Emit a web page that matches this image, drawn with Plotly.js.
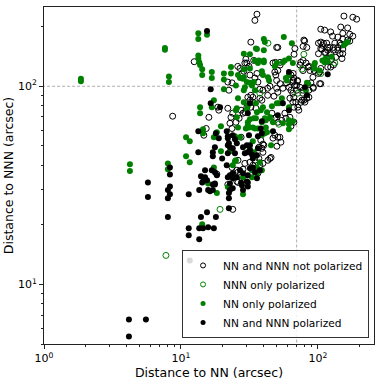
<!DOCTYPE html>
<html>
<head>
<meta charset="utf-8">
<script src="https://cdn.plot.ly/plotly-3.0.1.min.js"></script>
<style>
  html, body { margin: 0; padding: 0; background: #fff; }
  #chart { width: 382px; height: 382px; }
</style>
</head>
<body>
<div id="chart"></div>
<script>
// [NN distance, NNN distance] in arcsec

// open black circles
var notPolarized = [
  [8.7,70.6],[35.9,231],[34.7,215],[155,226],[180,223],[192,218],[105,194],[112,192],[124,188],[147,199],
  [152,185],[165,197],[171,183],[180,179],[140,177],[152,173],[165,171],[171,169],[128,179],[79,171],
  [78,159],[105,167],[108,161],[116,165],[122,157],[133,165],[145,165],[140,157],[152,154],[130,152],
  [118,152],[107,154],[101,146],[112,148],[135,140],[145,146],[150,138],[126,137],[116,138],[87.5,120],
  [92,111],[101,116],[103,103],[74,128],[82,131],[85,125],[78,135],[51,157],[49,132],[47,131],
  [53,128],[51,120],[48.5,118],[68,155],[66,116],[66,107],[68,101],[70,95.5],[71,106],[59,104],
  [55.5,97.7],[53,103],[44.7,100],[39.7,95.5],[74,98.8],[78,95.5],[92.5,97.7],[12.5,133],[32.4,167],[29.8,137],
  [30.3,131],[26,126],[28,116],[31.9,114],[22,105],[23.6,104],[22.4,95.5],[34.7,110],[35.9,116],[50,157],
  [80,169],[83,157],[101,165],[110,165],[118,157],[105,155],[130,157],[140,152],[152,146],[124,146],
  [114,148],[147,161],[67,145],[53,132],[34,135],[29.3,131],[31.4,126],[27,123],[28.8,119],[49.3,114],
  [50,107],[75,132],[86,126],[78,120],[94,120],[105,123],[118,125],[124,125],[130,128],[103,118],
  [105,103],[63.6,114],[66.8,110],[71,107],[66,105],[70,101],[36.5,105],[37.7,96.6],[43,97.7],[50,97.7],
  [51,93.3],[27.5,75.7],[30.3,78.4],[32.4,78.4],[35.3,77.4],[33.5,83.1],[39,85],[43,90],[32.4,90],[30.8,88],
  [61.5,98.8],[63.6,95.5],[65.7,92.2],[66.8,88],[69,83],[71.4,78.4],[72.6,75.7],[66.8,78.4],[77.7,92.2],[86,88],
  [79,85],[75,83],[86,95.5],[92.5,98.8],[89,104],[57.4,73.1],[66.8,65.8],[63.6,62.8],[45.5,68.9],[51,65.8],
  [22.8,65],[26.6,68.9],[28.4,73.1],[27.5,55.3],[38.3,53.4],[51,55.3],[53.7,52.2],[50.2,49.8],[40.3,50.4],[37.1,49.2],
  [15.3,61.2],[14.7,56.6],[16,69.7],[18.6,78.4],[18.9,75.7],[22,77.4],[23.9,73.1],[23.2,69.7],[47.8,89.1],[62.5,87],
  [65.7,83.1],[80.4,83.1],[83,87],[76.5,85],[46.2,73.1],[48.5,68.9],[54.6,67.3],[58.4,68.9],[62.5,69.7],[52.8,55.3],
  [48.5,56.6],[47,54.7],[39.7,51],[39,48.6],[39.7,46.4],[44.7,43.2],[43.2,42.3],[25.2,65.8],[29.3,73.9],[31.9,85],
  [33.5,88],[37.7,87],[23.6,61.2],[18.3,36],[23.6,38.9],[25.6,37.7],[28.4,38.1],[31.9,41.3],[34.7,42.3],[33.5,39.9],
  [29.3,40.8],[26.1,42.3],[27,35.5],[26.1,32.7],[26.1,36.8],[37.7,39.9],[36.5,36.4],[39.7,40.8],[37.1,43.2],[45.5,43.7],
  [23.9,23.9],[22,31.9],[25.6,33.1]
];

// open green circles
var nnnOnly = [
  [7.77,14.0],[19.3,23.9],[43.2,165],[79,145],[76.5,122],[105,116],[133,131],[71.4,92.2],[51.9,64.3],[37.7,92.3]
];

// filled green circles
var nnOnly = [
  [1.86,109],[1.86,106],[7.64,156],[7.64,153],[8.17,112],[8.17,105],[4.24,40.4],[4.24,37.3],[8.03,40.8],[8.03,38.1],
  [10.9,55.3],[11.6,52.8],[10.9,44.3],[11.6,41.3],[13.4,185],[13.4,173],[15.5,182],[13.4,143],[13.4,138],[13.6,132],
  [13.8,128],[14.3,122],[14.3,114],[16.8,118],[16.8,110],[20.6,116],[20.6,108],[23.2,125],[23.2,116],[28.8,122],
  [31.9,123],[26.1,114],[27,110],[28.4,109],[30.3,105],[25.2,101],[29.3,98.8],[31.9,104],[31.9,145],[35.3,155],
  [34.7,135],[36.5,131],[56.4,177],[40.3,173],[64.6,165],[165,167],[160,165],[155,161],[28.8,146],[35.9,154],
  [40.3,152],[61.5,138],[57.4,135],[55.5,132],[37.1,135],[40.3,132],[28.8,111],[34.1,105],[39,119],[39.7,114],
  [43.2,111],[44,107],[61.5,114],[58.4,110],[94,128],[108,135],[114,138],[118,133],[126,141],[112,132],
  [103,120],[95.1,131],[94,123],[65.7,131],[50.2,131],[48.5,126],[41,167],[40.3,135],[59.4,107],[85,103],
  [33,101],[34.7,95.5],[28.8,95.5],[26.1,87],[25.2,75.7],[25.6,69.7],[28.8,83.1],[38.3,75.7],[42.5,73.9],[46.2,79.3],
  [39.7,78.4],[51.9,82.1],[83.2,104],[81.8,95.5],[61.5,78.4],[34.1,68.9],[30.8,65.8],[29.8,61.2],[31.4,62],[41.7,67.3],
  [39,65.8],[34.7,61.2],[61.5,67.3],[61.5,64.3],[55.5,65],[65.7,66.5],[26.1,62],[19.6,62.8],[18.3,58.6],[17.4,55.3],
  [45.5,50.4],[13.8,78.4],[13.8,73.1],[16.8,78.4],[17.4,85],[20.6,96.6],[14.5,60.6],[14.5,57.9],[19.6,47],[17.4,38.9],
  [24.8,56],[25.2,42.3],[23.9,39.9],[27,55.3],[25.6,77.4],[30.8,63.6],[31.9,68.1],[35.3,68.9],[35.9,73.9],[35.3,82.1],
  [30.8,80.2],[30.3,76.5],[33.5,62],[36.5,61.2],[33,37.7],[35.9,38.9],[33,34.7],[34.1,46.4],[31.9,48.1],[22.8,47],
  [24.8,41.8],[15.8,32.3],[18.3,28.9],[22,31],[28.4,28.5],[37.7,41.3],[35.9,36.4],[39,37.7],[28.4,34.7],[33.5,52.8],
  [14.3,20.1],[39,56.6],[41,57.9],[42.5,58.6],[41,68.9],[44.7,69.7],[47,65.8],[41.7,62],[50.2,82.1],[61.5,60.6],
  [54.6,87]
];

// filled black circles
var bothPolarized = [
  [5.74,32.7],[5.74,27.6],[8.31,38.9],[8.31,35.9],[8.31,31.2],[8.03,29.9],[8.31,28.5],[8.03,27.2],[15.5,190],[16.5,96.6],
  [8.03,21.9],[11.4,28.5],[11.4,19.2],[11.4,17.7],[11.6,13.2],[4.17,6.65],[5.55,6.65],[4.17,5.46],[13.6,29.9],[14.5,33.1],
  [17.1,31.9],[17.7,31.9],[16.3,29.5],[22.4,28.9],[23.9,30.6],[22.4,27.2],[27.9,31.6],[30.8,31.2],[30.3,33.1],[22.4,24.2],
  [15.5,23.1],[14,21.9],[18,21.9],[13.6,19.2],[14.5,19.2],[15.8,19.4],[17.4,19.2],[13.6,16.9],[16.5,82.1],[19.3,78.4],
  [18,57.9],[18.9,54.7],[21.6,59.3],[22,54.7],[22.4,51.6],[22.8,49.2],[24.8,54],[13.4,46.4],[17.1,46.4],[17.1,44.3],
  [17.7,49.2],[20,43.2],[25.6,51.6],[28.4,49.2],[30.3,50.4],[31.9,47.5],[29.3,45.9],[33,45.3],[33.5,43.2],[35.9,44.8],
  [36.5,48.6],[14,35.1],[15,34.7],[16.8,37.7],[17.7,36.8],[18.3,35.5],[21.6,39.9],[22.8,35.5],[23.9,34.3],[27,37.7],
  [28.4,36.4],[30.8,35.5],[35.9,34.3],[37.7,37.7],[15,37.7],[14.3,32.7],[15.5,33.5],[17.7,32.3],[17.1,29.9],[15.8,29.9],
  [22,34.7],[22.8,32.3],[22.8,29.9],[23.9,36.4],[25.6,34.7],[30.8,32.7],[31.9,38.5],[33.5,38.9],[34.7,36.8],[28.4,29.9],
  [27.5,32.7],[22,50.4],[22,45.9],[24.8,45.9],[23.9,48.6],[30.8,46.4],[31.9,50.4],[13.4,59.3],[39,66.5],[38.3,61.2],
  [39,57.9],[22,56],[23.9,56.6],[31.4,56.6],[36.5,56],[31.9,82.1],[30.8,73.1],[61.5,75.7],[51,71.4],[55.5,82.1],
  [47,59.3],[61.5,118],[118,115],[80.4,98.8],[83.2,90.1]
];

var seriesNames = ['NN and NNN not polarized', 'NNN only polarized', 'NN only polarized', 'NN and NNN polarized'];
var nnCut = 70;     // vertical dashed line
var nnnCut = 100;   // horizontal dashed line

var green = '#008000';
var font = 'DejaVu Sans, Arial, sans-serif';

function col(arr, i) { return arr.map(function(p) { return p[i]; }); }

var refLine = {color: '#999', width: 0.8, dash: '3px,2px'};

var styles = [
  {symbol: 'circle-open', color: 'black', line: {width: 1}},
  {symbol: 'circle-open', color: green, line: {width: 1}},
  {symbol: 'circle', color: green},
  {symbol: 'circle', color: 'black'}
];
var sets = [notPolarized, nnnOnly, nnOnly, bothPolarized];

var data = [
  {x: [nnCut, nnCut], y: [1, 1000], mode: 'lines', line: refLine, showlegend: false, hoverinfo: 'skip'},
  {x: [0.1, 1000], y: [nnnCut, nnnCut], mode: 'lines', line: refLine, showlegend: false, hoverinfo: 'skip'}
];

// the points
sets.forEach(function(s, i) {
  data.push({
    x: col(s, 0), y: col(s, 1), name: seriesNames[i],
    type: 'scatter', mode: 'markers', showlegend: false,
    marker: Object.assign({size: 6}, styles[i])
  });
});

// legend entries with the smaller legend markers
sets.forEach(function(s, i) {
  data.push({
    x: [null], y: [null], name: seriesNames[i],
    type: 'scatter', mode: 'markers',
    marker: Object.assign({size: 5}, styles[i])
  });
});

var minorX = [2,3,4,5,6,7,8,9,20,30,40,50,60,70,80,90,200];
var minorY = [5,6,7,8,9,20,30,40,50,60,70,80,90,200];

var layout = {
  width: 382,
  height: 382,
  margin: {l: 44, r: 8, t: 7, b: 38},
  paper_bgcolor: 'white',
  plot_bgcolor: 'white',
  font: {family: font, size: 11, color: 'black'},
  xaxis: {
    type: 'log',
    range: [0, Math.log10(257)],
    tickmode: 'array',
    tickvals: [1, 10, 100],
    ticktext: ['10<sup>0</sup>', '10<sup>1</sup>', '10<sup>2</sup>'],
    ticks: 'outside', ticklen: 4, tickcolor: '#222', tickwidth: 1,
    minor: {tickmode: 'array', tickvals: minorX, ticks: 'outside', ticklen: 2, tickcolor: '#222', showgrid: false},
    showline: true, mirror: true, linecolor: '#222', linewidth: 1,
    showgrid: false, zeroline: false,
    tickfont: {size: 11},
    title: {text: 'Distance to NN (arcsec)', font: {size: 12.5}, standoff: 4}
  },
  yaxis: {
    type: 'log',
    range: [Math.log10(5), 2.4],
    tickmode: 'array',
    tickvals: [10, 100],
    ticktext: ['10<sup>1</sup>', '10<sup>2</sup>'],
    ticks: 'outside', ticklen: 4, tickcolor: '#222', tickwidth: 1,
    minor: {tickmode: 'array', tickvals: minorY, ticks: 'outside', ticklen: 2, tickcolor: '#222', showgrid: false},
    showline: true, mirror: true, linecolor: '#222', linewidth: 1,
    showgrid: false, zeroline: false,
    tickfont: {size: 11},
    title: {text: 'Distance to NNN (arcsec)', font: {size: 12.5}, standoff: 1}
  },
  legend: {
    x: 0.985, xanchor: 'right',
    y: 0.018, yanchor: 'bottom',
    bgcolor: 'rgba(255,255,255,0.85)',
    bordercolor: '#333', borderwidth: 1,
    font: {size: 10.6},
    tracegroupgap: 0,
    itemwidth: 30
  },
  showlegend: true
};

Plotly.newPlot('chart', data, layout, {displayModeBar: false, staticPlot: true});
</script>
</body>
</html>
